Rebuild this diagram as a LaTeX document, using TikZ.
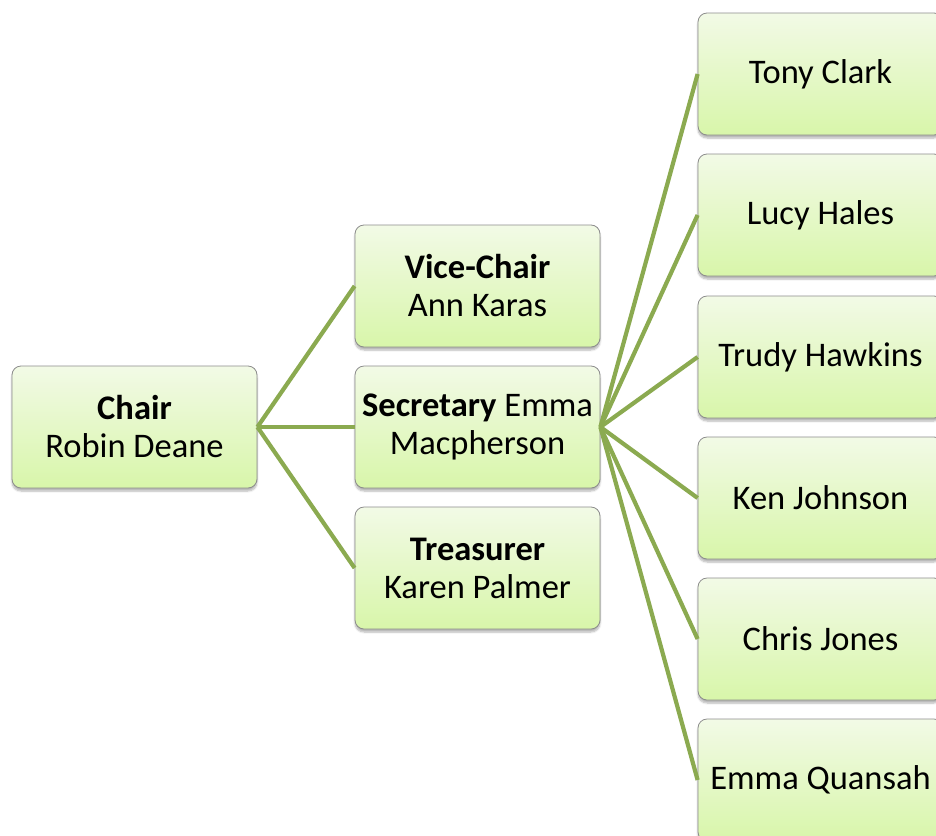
\documentclass[tikz,border=0pt]{standalone}
\usepackage{fontspec}
\setmainfont{Carlito}
\usetikzlibrary{shadows.blur}
\definecolor{boxtop}{RGB}{242,250,230}
\definecolor{boxbot}{RGB}{216,246,170}
\definecolor{boxedge}{RGB}{140,140,140}
\definecolor{linkgreen}{RGB}{139,170,80}
\begin{document}
\begin{tikzpicture}[x=1pt,y=-1pt,
  member/.style={draw=boxedge, line width=0.8pt, rounded corners=9pt,
    top color=boxtop, bottom color=boxbot,
    minimum width=245pt, minimum height=122pt, inner sep=0pt,
    align=center, font=\fontsize{34.5}{38}\selectfont,
    blur shadow={shadow xshift=0pt, shadow yshift=-3pt, shadow blur steps=6, shadow opacity=30}},
  link/.style={draw=linkgreen, line width=4.2pt}]
\useasboundingbox (0,0) rectangle (936,835);
% top tier
\node[member] (chair) at (134.5,427) {\textbf{Chair}\\Robin Deane};
% officers
\node[member] (vice) at (477.5,286) {\textbf{Vice-Chair}\\Ann Karas};
\node[member] (sec) at (477.5,427) {\textbf{Secretary} Emma\\Macpherson};
\node[member] (treas) at (477.5,568) {\textbf{Treasurer}\\Karen Palmer};
% committee members
\node[member] (m1) at (820.5,74) {Tony Clark};
\node[member] (m2) at (820.5,215) {Lucy Hales};
\node[member] (m3) at (820.5,357) {Trudy Hawkins};
\node[member] (m4) at (820.5,498) {Ken Johnson};
\node[member] (m5) at (820.5,639) {Chris Jones};
\node[member] (m6) at (820.5,780) {Emma Quansah};
% connectors
\foreach \t in {vice,sec,treas}
  \draw[link] (chair.east) -- (\t.west);
\foreach \t in {m1,m2,m3,m4,m5,m6}
  \draw[link] (sec.east) -- (\t.west);
\end{tikzpicture}
\end{document}
